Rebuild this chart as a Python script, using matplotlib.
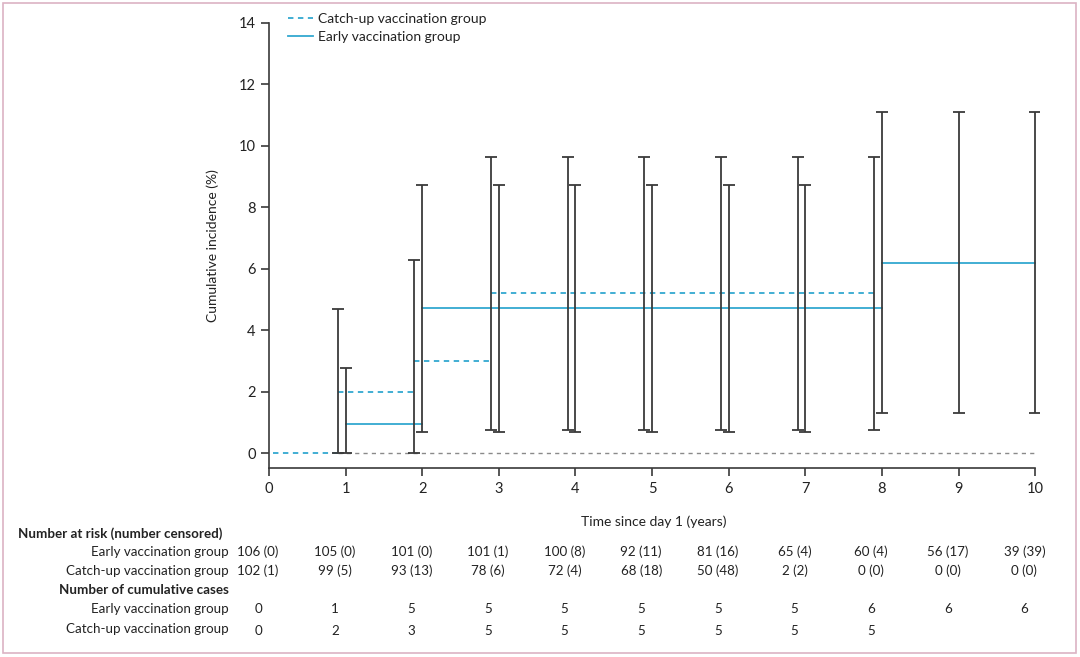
import matplotlib
matplotlib.use("Agg")
import matplotlib.pyplot as plt
from matplotlib.patches import Rectangle

plt.rcParams["font.family"] = ["Lato", "DejaVu Sans"]

BLUE = "#33a8d0"
DARK = "#3a3a3a"

# cumulative incidence steps (%)
early_x = [1.0, 2.0, 8.0, 10.0]
early_y = [0.95, 4.72, 6.2]
catch_x = [0.05, 0.9, 1.9, 2.9, 7.9]
catch_y = [0.0, 1.99, 3.0, 5.2]

# 95% CI bars
early_ci_x = [1, 2, 3, 4, 5, 6, 7, 8, 9, 10]
early_ci_lo = [0.0, 0.7, 0.7, 0.7, 0.7, 0.7, 0.7, 1.3, 1.3, 1.3]
early_ci_hi = [2.78, 8.72, 8.72, 8.72, 8.72, 8.72, 8.72, 11.1, 11.1, 11.1]
catch_ci_x = [0.9, 1.9, 2.9, 3.9, 4.9, 5.9, 6.9, 7.9]
catch_ci_lo = [0.0, 0.0, 0.76, 0.76, 0.76, 0.76, 0.76, 0.76]
catch_ci_hi = [4.7, 6.3, 9.64, 9.64, 9.64, 9.64, 9.64, 9.64]

years = list(range(11))
risk_early = ["106 (0)", "105 (0)", "101 (0)", "101 (1)", "100 (8)", "92 (11)",
              "81 (16)", "65 (4)", "60 (4)", "56 (17)", "39 (39)"]
risk_catch = ["102 (1)", "99 (5)", "93 (13)", "78 (6)", "72 (4)", "68 (18)",
              "50 (48)", "2 (2)", "0 (0)", "0 (0)", "0 (0)"]
cases_early = ["0", "1", "5", "5", "5", "5", "5", "5", "6", "6", "6"]
cases_catch = ["0", "2", "3", "5", "5", "5", "5", "5", "5", "", ""]

fig = plt.figure(figsize=(10.8, 6.57), dpi=100)
ax = fig.add_axes([0.249, 0.287, 0.713, 0.678])

# zero reference line
ax.plot([0.9, 10], [0, 0], color="#8a8a8a", lw=1, ls=(0, (3, 3)))

# step lines
for i, v in enumerate(catch_y):
    ax.plot([catch_x[i], catch_x[i + 1]], [v, v], color=BLUE, lw=1.3,
            ls=(0, (3, 2.5)), label="Catch-up vaccination group" if i == 0 else None)
for i, v in enumerate(early_y):
    ax.plot([early_x[i], early_x[i + 1]], [v, v], color=BLUE, lw=1.3,
            label="Early vaccination group" if i == 0 else None)

# error bars
for xs, lo, hi in [(catch_ci_x, catch_ci_lo, catch_ci_hi),
                   (early_ci_x, early_ci_lo, early_ci_hi)]:
    mid = [(a + b) / 2 for a, b in zip(lo, hi)]
    err = [[m - a for m, a in zip(mid, lo)], [b - m for m, b in zip(mid, hi)]]
    ax.errorbar(xs, mid, yerr=err, fmt="none", ecolor=DARK, elinewidth=1.3,
                capsize=4.5, capthick=1.3)

ax.set_xlim(0, 10.05)
ax.set_ylim(-0.5, 14)
ax.set_xticks(years)
ax.set_yticks(range(0, 15, 2))
for s in ["top", "right"]:
    ax.spines[s].set_visible(False)
for s in ["left", "bottom"]:
    ax.spines[s].set_color(DARK)
    ax.spines[s].set_linewidth(1.2)
ax.spines["bottom"].set_bounds(0, 10)
ax.spines["left"].set_bounds(-0.5, 14)
ax.tick_params(colors=DARK, labelcolor="#222", labelsize=10.5, length=6, width=1.2)
ax.set_ylabel("Cumulative incidence (%)", fontsize=10, color="#222", labelpad=14)
ax.set_xlabel("Time since day 1 (years)", fontsize=10, color="#222", labelpad=14)

leg = ax.legend(loc="upper left", bbox_to_anchor=(0.018, 1.035), frameon=False,
                fontsize=10, handlelength=1.8, handletextpad=0.3,
                labelspacing=0.4, borderaxespad=0)
for t in leg.get_texts():
    t.set_color("#222")


# table below the axes (positions in pixels of the 657 px tall figure)
def fy(py):
    return 1 - py / 657


LAB_X = 0.212
FS = 9.6
fig.text(0.017, fy(534), "Number at risk (number censored)", ha="left",
         va="center", fontsize=FS, fontweight="bold", color="#222")
fig.text(LAB_X, fy(590), "Number of cumulative cases", ha="right",
         va="center", fontsize=FS, fontweight="bold", color="#222")
for lab, py in [("Early vaccination group", 552), ("Catch-up vaccination group", 571),
                ("Early vaccination group", 609), ("Catch-up vaccination group", 629)]:
    fig.text(LAB_X, fy(py), lab, ha="right", va="center", fontsize=FS, color="#222")

for py, vals in [(552, risk_early), (571, risk_catch),
                 (609, cases_early), (631, cases_catch)]:
    for yr, v in zip(years, vals):
        xd = fig.transFigure.inverted().transform(ax.transData.transform((yr, 0)))[0]
        fig.text(xd - 0.01, fy(py), v, ha="center", va="center",
                 fontsize=FS, color="#222")

fig.patches.append(Rectangle((0.003, 0.006), 0.993, 0.989, transform=fig.transFigure,
                             fill=False, edgecolor="#dcb3c3", lw=1.2))

fig.savefig("out.png", dpi=100, facecolor="white")
